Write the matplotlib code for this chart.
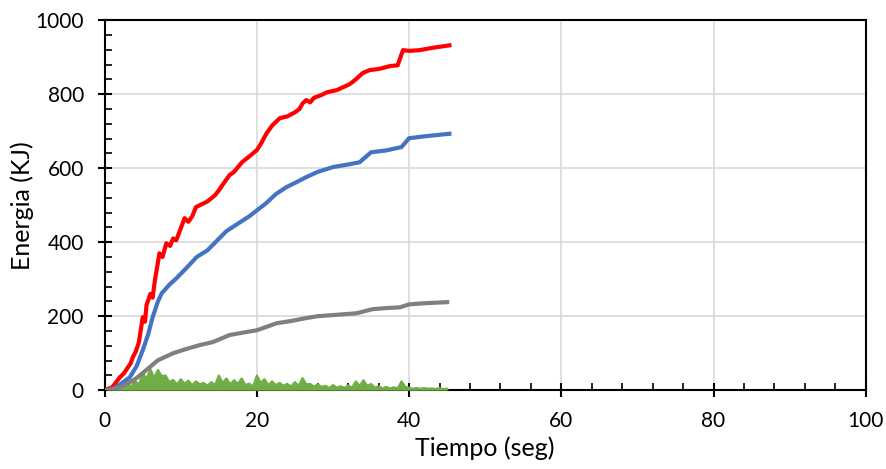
import numpy as np
import matplotlib.pyplot as plt
from matplotlib.ticker import MultipleLocator

# series (time in seconds, energy in kJ)
t_red = [0, 1, 2, 2.5, 3, 3.4, 3.7, 4.1, 4.5, 5, 5.3, 5.5, 6, 6.3, 6.6, 7.2, 7.6,
         8.1, 8.6, 9, 9.4, 9.9, 10.5, 11, 11.5, 12, 12.5, 13, 13.5, 14.5, 15,
         15.5, 16.4, 17, 17.4, 18, 18.4, 19.2, 20, 20.5, 21.3, 22, 23, 24, 25,
         25.6, 26, 26.5, 27, 27.5, 28.5, 29.2, 30.5, 32.2, 33, 33.9, 34.8, 36,
         37.5, 38.5, 39.2, 40, 41.4, 43, 45.3]
red = [0, 8, 35, 45, 60, 72, 89, 105, 130, 197, 185, 230, 260, 250, 297, 370,
       360, 397, 390, 410, 405, 432, 465, 455, 470, 495, 500, 505, 510, 527,
       540, 555, 581, 590, 600, 615, 622, 635, 649, 665, 695, 715, 735, 740,
       751, 760, 775, 784, 778, 790, 798, 805, 811, 827, 840, 857, 865, 868,
       876, 878, 919, 917, 919, 925, 932]

t_blue = [0, 1.1, 2, 3.3, 4.2, 5, 5.7, 6.3, 7, 7.5, 8.5, 9.4, 10.5, 12.1, 13.5,
          14.8, 16, 17.5, 19, 20, 21.2, 22.5, 23.9, 25, 26.5, 28, 30, 32, 33.5,
          35, 37, 39, 40, 42, 45.3]
blue = [0, 2, 15, 35, 65, 108, 150, 197, 240, 262, 285, 302, 325, 360, 378,
        405, 430, 450, 470, 486, 505, 530, 549, 560, 576, 590, 603, 610, 616,
        643, 648, 657, 681, 686, 693]

t_gray = [0, 1, 2, 3, 4, 4.5, 5.5, 7, 9, 10.5, 12.5, 14.2, 16.4, 18, 20, 22.6,
          24.5, 26.5, 28, 30, 33.1, 35.2, 37, 38.8, 40, 42, 45]
gray = [0, 3, 8, 18, 30, 38, 55, 81, 100, 110, 122, 130, 149, 155, 162, 181,
        187, 195, 200, 203, 208, 219, 222, 224, 232, 235, 238]

t_green = np.arange(0, 45.01, 0.5)
green = [0, 2, 4, 3, 10, 6, 18, 10, 25, 16, 48, 30, 58, 34, 55, 38, 40, 22, 28, 16,
         30, 18, 26, 14, 24, 16, 20, 12, 22, 14, 40, 20, 32, 16, 27, 17, 32, 14, 18, 10,
         40, 20, 30, 14, 24, 14, 20, 12, 17, 10, 22, 12, 33, 16, 17, 10, 16, 9, 12, 6,
         14, 7, 11, 6, 13, 7, 24, 12, 27, 12, 17, 7, 11, 5, 9, 5, 8, 5, 24, 9,
         7, 4, 6, 4, 6, 4, 5, 3, 6, 3, 4]

t_orange = [0, 45]
orange = [0, 1]

plt.rcParams['font.family'] = ['Lato', 'DejaVu Sans']

fig = plt.figure(figsize=(8.87, 4.69), dpi=100)
ax = fig.add_axes([0.118, 0.168, 0.858, 0.789])

ax.plot(t_red, red, color='#FF0000', lw=3, zorder=3)
ax.plot(t_blue, blue, color='#4472C4', lw=3, zorder=4)
ax.plot(t_orange, orange, color='#ED7D31', lw=2, zorder=5)
ax.fill_between(t_green, 0, green, color='#70AD47', lw=0, zorder=6)
ax.plot(t_green, green, color='#70AD47', lw=1.5, zorder=6)
ax.plot(t_gray, gray, color='#7F7F7F', lw=3, zorder=7)

ax.set_xlim(0, 100)
ax.set_ylim(0, 1000)
ax.xaxis.set_major_locator(MultipleLocator(20))
ax.xaxis.set_minor_locator(MultipleLocator(4))
ax.yaxis.set_major_locator(MultipleLocator(200))
ax.yaxis.set_minor_locator(MultipleLocator(40))

ax.grid(True, which='major', color='#D9D9D9', lw=1.2, zorder=0)
ax.set_axisbelow(True)

ax.tick_params(axis='both', which='major', direction='inout', length=10, width=1.5,
               labelsize=15, pad=10)
ax.tick_params(axis='both', which='minor', direction='in', length=5, width=1.2)

for s in ax.spines.values():
    s.set_linewidth(1.5)
    s.set_color('black')

ax.set_xlabel('Tiempo (seg)', fontsize=18, labelpad=4)
ax.set_ylabel('Energia (KJ)', fontsize=18, labelpad=1)

fig.savefig('out.png', dpi=100)
